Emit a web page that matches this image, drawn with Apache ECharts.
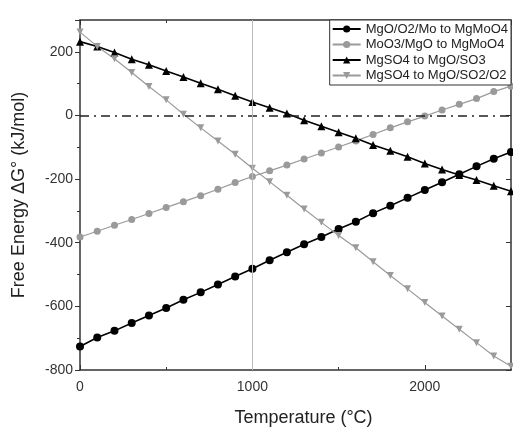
<!DOCTYPE html>
<html>
<head>
<meta charset="utf-8">
<script src="https://cdn.jsdelivr.net/npm/echarts@6/dist/echarts.min.js"></script>
<style>
html,body{margin:0;padding:0;background:#fff;}
#c{width:513px;height:427px;}
</style>
</head>
<body>
<div id="c"></div>
<script>
const temps = [0,100,200,300,400,500,600,700,800,900,1000,1100,1200,1300,1400,1500,1600,1700,1800,1900,2000,2100,2200,2300,2400,2500];
const mgoMo = [-726,-698,-677,-652,-629,-605,-579,-556,-531,-506,-482,-455,-430,-405,-382,-357,-334,-307,-284,-259,-234,-210,-185,-160,-136,-115];
const moo3 = [-382,-364,-345,-327,-308,-289,-271,-252,-232,-211,-192,-174,-156,-137,-118,-99,-80,-60,-39,-20,-2,17,35,53,75,92];
const so3 = [232,217,198,177,159,140,121,101,82,62,42,24,6,-15,-34,-53,-72,-93,-111,-130,-151,-170,-187,-203,-221,-238];
const so2 = [262,217,178,135,91,49,4,-39,-80,-122,-166,-208,-251,-294,-336,-377,-416,-460,-503,-545,-588,-630,-672,-714,-756,-788];
const names = ['MgO/O2/Mo to MgMoO4','MoO3/MgO to MgMoO4','MgSO4 to MgO/SO3','MgSO4 to MgO/SO2/O2'];
const xTicks = [0,1000,2000];
const yTicks = [-800,-600,-400,-200,0,200];

const pair = arr => temps.map((t,i)=>[t,arr[i]]);
const font = 'Liberation Sans, Arial, sans-serif';
const frame = '#333';

const chart = echarts.init(document.getElementById('c'), null, {renderer:'canvas'});
const mk = (name, data, color, symbol, rot, size, width) => ({
  name, type:'line', data, symbol, symbolSize:size, symbolRotate:rot,
  itemStyle:{color}, lineStyle:{color, width}, animation:false, z:3
});
const s1 = mk(names[0], pair(mgoMo), '#000', 'circle', 0, 8, 1.6);
s1.markLine = {
  silent:true, symbol:'none', label:{show:false}, animation:false,
  data:[
    {yAxis:0, lineStyle:{color:'#222', width:1.5, type:[9,5,2,5]}},
    {xAxis:1000, lineStyle:{color:'#bbb', width:1, type:'solid'}}
  ]
};
chart.setOption({
  backgroundColor:'#fff',
  animation:false,
  textStyle:{fontFamily:font},
  grid:{left:80, right:2, top:20, bottom:57, containLabel:false, outerBoundsMode:'none'},
  legend:{
    orient:'vertical', right:2, top:20, itemWidth:28, itemHeight:9, itemGap:0.5,
    padding:[1.5,3,2,2], borderColor:frame, borderWidth:1, backgroundColor:'#fff',
    textStyle:{fontSize:13, lineHeight:15, color:'#222', fontFamily:font},
    data:names
  },
  xAxis:[{
    type:'value', min:0, max:2500, interval:1000,
    name:'Temperature (°C)', nameLocation:'middle', nameGap:39,
    nameTextStyle:{fontSize:18, color:'#222', padding:[0,0,0,16]},
    axisLine:{show:true, onZero:false, lineStyle:{color:frame, width:1.5}},
    axisTick:{show:true, inside:true, length:5, lineStyle:{color:frame}},
    minorTick:{show:true, splitNumber:2, length:3, lineStyle:{color:frame}},
    axisLabel:{fontSize:14, color:'#333', margin:10, showMaxLabel:false,
      formatter:v=>xTicks.includes(v)?String(v):''},
    splitLine:{show:false}
  },{
    type:'value', position:'top', min:0, max:2500, interval:1000,
    axisLine:{show:true, onZero:false, lineStyle:{color:frame, width:1.5}},
    axisTick:{show:true, inside:true, length:5, lineStyle:{color:frame}},
    minorTick:{show:true, splitNumber:2, length:3, lineStyle:{color:frame}},
    axisLabel:{show:false}, splitLine:{show:false}
  }],
  yAxis:[{
    type:'value', min:-800, max:300, interval:200,
    name:'Free Energy ΔG° (kJ/mol)', nameLocation:'middle', nameGap:52,
    nameTextStyle:{fontSize:18, color:'#222'},
    axisLine:{show:true, onZero:false, lineStyle:{color:frame, width:1.5}},
    axisTick:{show:true, inside:false, length:5, lineStyle:{color:frame}},
    minorTick:{show:true, splitNumber:2, length:3, lineStyle:{color:frame}},
    axisLabel:{fontSize:14, color:'#333', margin:7, showMaxLabel:false,
      formatter:v=>yTicks.includes(v)?String(v):''},
    splitLine:{show:false}
  },{
    type:'value', position:'right', min:-800, max:300, interval:200,
    axisLine:{show:true, onZero:false, lineStyle:{color:frame, width:1.5}},
    axisTick:{show:true, inside:true, length:5, lineStyle:{color:frame}},
    minorTick:{show:false},
    axisLabel:{show:false}, splitLine:{show:false}
  }],
  series:[
    s1,
    mk(names[1], pair(moo3), '#9a9a9a', 'circle', 0, 7, 1.2),
    mk(names[2], pair(so3), '#000', 'triangle', 0, 8, 1.6),
    mk(names[3], pair(so2), '#9a9a9a', 'triangle', 180, 7, 1.2)
  ]
});
</script>
</body>
</html>
